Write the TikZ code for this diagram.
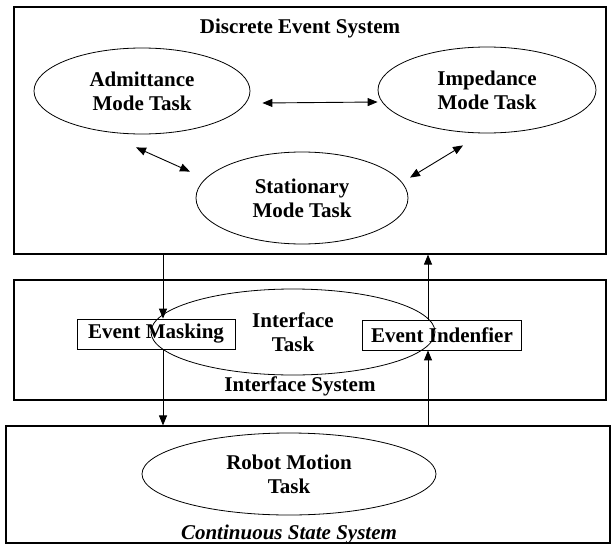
\documentclass[tikz,border=0pt]{standalone}
\usepackage{fontspec}
\setmainfont{Liberation Serif}
\usetikzlibrary{shapes,arrows.meta}

\begin{document}
\begin{tikzpicture}[x=1pt, y=-1pt, font=\fontsize{21}{24}\selectfont\bfseries,
	layer/.style={draw, rectangle, line width=1.1pt, inner sep=0pt},
	task/.style={draw, ellipse, line width=.8pt, align=center, inner sep=0pt},
	mask/.style={draw, rectangle, line width=.8pt, minimum height=30pt, inner sep=3pt},
	link/.style={line width=.9pt, -{Triangle[length=10pt,width=8pt]}},
	duplex/.style={line width=.9pt, {Triangle[length=10pt,width=8pt]}-{Triangle[length=10pt,width=8pt]}}]
	\useasboundingbox (0,0) rectangle (616,546);
			% the three layers
			\node[layer, minimum width=592pt, minimum height=247pt] (des) at (310,130.5) {};
			\node[layer, minimum width=592pt, minimum height=120pt] (ifs) at (310,340) {};
			\node[layer, minimum width=604pt, minimum height=117pt] (css) at (308,484.5) {};
			\node (desname) at (300,28) {Discrete Event System};
			\node (ifsname) at (300,386) {Interface System};
			\node[font=\fontsize{21}{24}\selectfont\bfseries\itshape] (cssname) at (289,534) {Continuous State System};
				% tasks
				\node[task, minimum width=216pt, minimum height=86pt] (adm) at (142,91) {Admittance\\Mode Task};
				\node[task, minimum width=218pt, minimum height=86pt] (imp) at (487,90) {Impedance\\Mode Task};
				\node[task, minimum width=212pt, minimum height=92pt] (sta) at (302,198) {Stationary\\Mode Task};
				\node[task, minimum width=284pt, minimum height=86pt] (itf) at (293,332) {Interface\\Task};
				\node[task, minimum width=294pt, minimum height=82pt] (rob) at (289,474) {Robot Motion\\Task};
				\node[mask, minimum width=158pt] (em) at (156,334) {Event Masking};
				\node[mask, minimum width=159pt] (ei) at (442,335) {Event Indenfier};
					% switching between modes
					\draw[duplex] ([shift={(12pt,-12pt)}]adm.east) -- ([yshift=-12pt]imp.west);
					\draw[duplex] ([shift={(-6pt,-13pt)}]adm.south) -- ([shift={(-112pt,-20pt)}]sta.north);
					\draw[duplex] ([shift={(-24pt,-12pt)}]imp.south) -- ([shift={(108pt,-26pt)}]sta.north);
					% events down and up through the interface
					\coordinate (maskx) at (163,0);
					\coordinate (identx) at (428,0);
					\draw[link] (maskx |- des.south) -- (maskx |- em.north);
					\draw[link] (maskx |- em.south) -- (maskx |- css.north);
					\draw[link] (identx |- css.north) -- (identx |- ei.south);
					\draw[link] (identx |- ei.north) -- (identx |- des.south);
\end{tikzpicture}
\end{document}
